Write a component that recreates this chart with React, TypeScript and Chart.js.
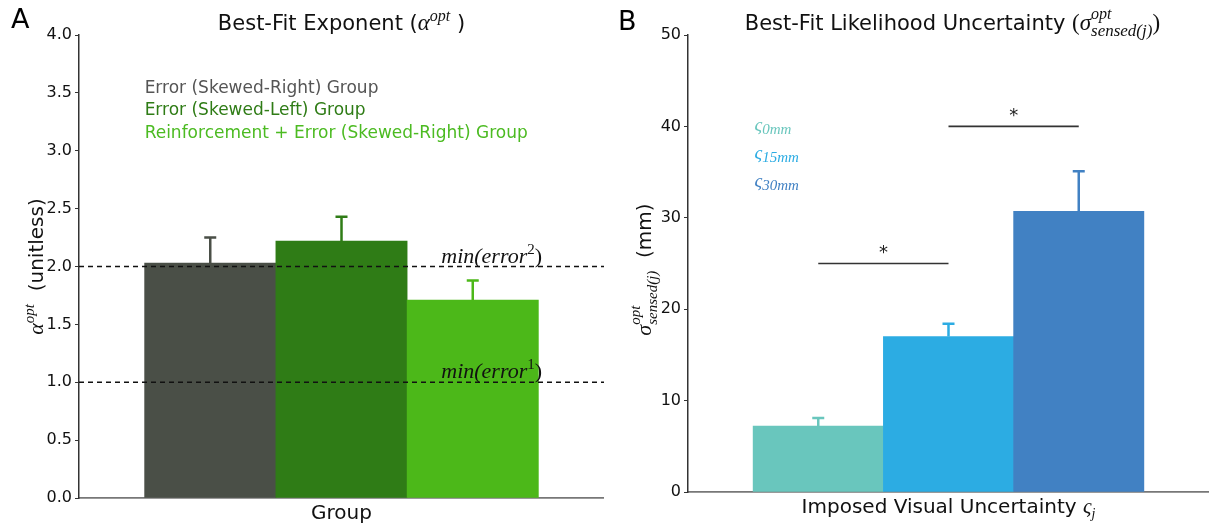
import React, { useEffect, useRef } from "react";
import { Chart, registerables } from "chart.js";

Chart.register(...registerables);

// ---------- Panel A data ----------
const groupLabels = [
  "Error (Skewed-Right) Group",
  "Error (Skewed-Left) Group",
  "Reinforcement + Error (Skewed-Right) Group",
];
const alphaValues = [2.03, 2.22, 1.71];
const alphaErrors = [0.22, 0.21, 0.17];
const groupColors = ["#4a4f47", "#2f7c16", "#4cb819"];
const groupTextColors = ["#555555", "#2f7c16", "#4cbb22"];
const refLevels = [2, 1];
const refExponents = ["2", "1"];
const legendLevelsA = [3.54, 3.35, 3.15];

// ---------- Panel B data ----------
const uncLabels = ["0mm", "15mm", "30mm"];
const sigmaValues = [7.2, 17.0, 30.7];
const sigmaErrors = [0.9, 1.4, 4.4];
const uncColors = ["#69c6bd", "#2cace3", "#4181c3"];
const sigPairs = [
  [0, 1],
  [1, 2],
];
const sigLevels = [25, 40];
const legendLevelsB = [39.9, 36.9, 33.8];

const SANS = '"DejaVu Sans", "Noto Sans", sans-serif';
const SERIF = '"Liberation Serif", "DejaVu Serif", serif';
const fnt = (size: number, fam: string, style = "") => `${style} ${size}px ${fam}`.trim();

type Seg = { t: string; font: string; dy?: number; color?: string; sameX?: boolean };

function measureSegs(ctx: CanvasRenderingContext2D, segs: Seg[]) {
  let w = 0,
    lastStart = 0,
    lastW = 0;
  for (const s of segs) {
    ctx.font = s.font;
    const sw = ctx.measureText(s.t).width;
    if (s.sameX) {
      const m = Math.max(lastW, sw);
      w = lastStart + m;
      lastW = m;
    } else {
      lastStart = w;
      lastW = sw;
      w += sw;
    }
  }
  return w;
}

function drawSegs(
  ctx: CanvasRenderingContext2D,
  segs: Seg[],
  x: number,
  y: number,
  align: "left" | "center",
  color: string
) {
  const total = measureSegs(ctx, segs);
  const cx = align === "center" ? x - total / 2 : x;
  let w = 0,
    lastStart = 0,
    lastW = 0;
  ctx.textBaseline = "alphabetic";
  ctx.textAlign = "left";
  for (const s of segs) {
    ctx.font = s.font;
    ctx.fillStyle = s.color || color;
    const sw = ctx.measureText(s.t).width;
    if (s.sameX) {
      ctx.fillText(s.t, cx + lastStart, y + (s.dy || 0));
      const m = Math.max(lastW, sw);
      w = lastStart + m;
      lastW = m;
    } else {
      lastStart = w;
      ctx.fillText(s.t, cx + w, y + (s.dy || 0));
      lastW = sw;
      w += sw;
    }
  }
}

function drawErrorBars(chart: any, values: number[], errors: number[], colors: string[]) {
  const ctx = chart.ctx as CanvasRenderingContext2D;
  const xs = chart.scales.x;
  const ys = chart.scales.y;
  ctx.save();
  ctx.lineWidth = 2.5;
  values.forEach((v, i) => {
    const x = xs.getPixelForValue(i);
    const y0 = ys.getPixelForValue(v);
    const y1 = ys.getPixelForValue(v + errors[i]);
    ctx.strokeStyle = colors[i];
    ctx.beginPath();
    ctx.moveTo(x, y0);
    ctx.lineTo(x, y1);
    ctx.moveTo(x - 6, y1);
    ctx.lineTo(x + 6, y1);
    ctx.stroke();
  });
  ctx.restore();
}

const overlayA = {
  id: "overlayA",
  afterDatasetsDraw(chart: any) {
    drawErrorBars(chart, alphaValues, alphaErrors, groupColors);
    const ctx = chart.ctx as CanvasRenderingContext2D;
    const xs = chart.scales.x;
    const ys = chart.scales.y;
    ctx.save();
    refLevels.forEach((lv, i) => {
      const x = xs.getPixelForValue(1.76);
      const y = ys.getPixelForValue(lv) - 4;
      drawSegs(
        ctx,
        [
          { t: "min(error", font: fnt(22, SERIF, "italic") },
          { t: refExponents[i], font: fnt(15, SERIF), dy: -9 },
          { t: ")", font: fnt(22, SERIF) },
        ],
        x,
        y,
        "left",
        "#111"
      );
    });
    ctx.restore();
  },
  afterDraw(chart: any) {
    const ctx = chart.ctx as CanvasRenderingContext2D;
    const xs = chart.scales.x;
    const ys = chart.scales.y;
    const ca = chart.chartArea;
    ctx.save();
    ctx.font = fnt(27, SANS);
    ctx.fillStyle = "#000";
    ctx.textAlign = "left";
    ctx.textBaseline = "alphabetic";
    ctx.fillText("A", 11, 28);
    drawSegs(
      ctx,
      [
        { t: "Best-Fit Exponent (", font: fnt(21, SANS) },
        { t: "α", font: fnt(23, SERIF, "italic") },
        { t: "opt", font: fnt(16, SERIF, "italic"), dy: -9 },
        { t: " )", font: fnt(21, SANS) },
      ],
      xs.getPixelForValue(1),
      30,
      "center",
      "#111"
    );
    groupLabels.forEach((lab, i) => {
      ctx.font = fnt(17, SANS);
      ctx.fillStyle = groupTextColors[i];
      ctx.textAlign = "left";
      ctx.textBaseline = "middle";
      ctx.fillText(lab, xs.getPixelForValue(-0.5), ys.getPixelForValue(legendLevelsA[i]));
    });
    ctx.font = fnt(20, SANS);
    ctx.fillStyle = "#111";
    ctx.textAlign = "center";
    ctx.textBaseline = "alphabetic";
    ctx.fillText("Group", xs.getPixelForValue(1), 519);
    ctx.translate(43, (ca.top + ca.bottom) / 2);
    ctx.rotate(-Math.PI / 2);
    drawSegs(
      ctx,
      [
        { t: "α", font: fnt(22, SERIF, "italic") },
        { t: "opt", font: fnt(15, SERIF, "italic"), dy: -9 },
        { t: "  (unitless)", font: fnt(20, SANS) },
      ],
      0,
      0,
      "center",
      "#111"
    );
    ctx.restore();
  },
};

const overlayB = {
  id: "overlayB",
  afterDatasetsDraw(chart: any) {
    drawErrorBars(chart, sigmaValues, sigmaErrors, uncColors);
    const ctx = chart.ctx as CanvasRenderingContext2D;
    const xs = chart.scales.x;
    const ys = chart.scales.y;
    ctx.save();
    sigPairs.forEach((p, i) => {
      const x = (xs.getPixelForValue(p[0]) + xs.getPixelForValue(p[1])) / 2;
      const y = ys.getPixelForValue(sigLevels[i]) - 13;
      ctx.font = fnt(18, SANS);
      ctx.fillStyle = "#222";
      ctx.textAlign = "center";
      ctx.textBaseline = "middle";
      ctx.fillText("*", x, y + 3);
    });
    ctx.restore();
  },
  afterDraw(chart: any) {
    const ctx = chart.ctx as CanvasRenderingContext2D;
    const xs = chart.scales.x;
    const ys = chart.scales.y;
    const ca = chart.chartArea;
    ctx.save();
    ctx.font = fnt(27, SANS);
    ctx.fillStyle = "#000";
    ctx.textAlign = "left";
    ctx.textBaseline = "alphabetic";
    ctx.fillText("B", 14, 30);
    drawSegs(
      ctx,
      [
        { t: "Best-Fit Likelihood Uncertainty ", font: fnt(21, SANS) },
        { t: "(", font: fnt(23, SERIF) },
        { t: "σ", font: fnt(23, SERIF, "italic") },
        { t: "opt", font: fnt(16, SERIF, "italic"), dy: -11 },
        { t: "sensed(j)", font: fnt(17, SERIF, "italic"), dy: 6, sameX: true },
        { t: ")", font: fnt(23, SERIF) },
      ],
      xs.getPixelForValue(1.03),
      30,
      "center",
      "#111"
    );
    uncLabels.forEach((lab, i) => {
      const x = xs.getPixelForValue(-0.49);
      const y = ys.getPixelForValue(legendLevelsB[i]) + 4;
      drawSegs(
        ctx,
        [
          { t: "ς", font: fnt(19, SERIF, "italic") },
          { t: lab, font: fnt(15, SERIF, "italic"), dy: 3 },
        ],
        x,
        y,
        "left",
        uncColors[i]
      );
    });
    drawSegs(
      ctx,
      [
        { t: "Imposed Visual Uncertainty ", font: fnt(20, SANS) },
        { t: "ς", font: fnt(21, SERIF, "italic") },
        { t: "j", font: fnt(14, SERIF, "italic"), dy: 5 },
      ],
      xs.getPixelForValue(1),
      513,
      "center",
      "#111"
    );
    ctx.translate(47, (ca.top + ca.bottom) / 2 + 6);
    ctx.rotate(-Math.PI / 2);
    drawSegs(
      ctx,
      [
        { t: "σ", font: fnt(22, SERIF, "italic") },
        { t: "opt", font: fnt(15, SERIF, "italic"), dy: -11 },
        { t: "sensed(j)", font: fnt(15, SERIF, "italic"), dy: 6, sameX: true },
        { t: "  (mm)", font: fnt(20, SANS) },
      ],
      0,
      0,
      "center",
      "#111"
    );
    ctx.restore();
  },
};

function yScale(min: number, max: number, step: number, decimals: number, width: number) {
  return {
    min,
    max,
    ticks: {
      stepSize: step,
      callback: (v: any) => Number(v).toFixed(decimals),
      font: { family: SANS, size: 16 },
      color: "#111",
      padding: 3,
    },
    grid: { drawOnChartArea: false, tickLength: 4, color: "#333", lineWidth: 1 },
    border: { color: "#333", width: 1.5 },
    afterFit: (s: any) => {
      s.width = width;
    },
  };
}

function xScale(min: number, max: number, height: number) {
  return {
    type: "linear" as const,
    min,
    max,
    offset: false,
    ticks: { display: false, stepSize: 1 },
    grid: { display: false },
    border: { display: true, color: "#777", width: 1.8 },
    afterFit: (s: any) => {
      s.height = height;
    },
  };
}

export default function App() {
  const refA = useRef<HTMLCanvasElement | null>(null);
  const refB = useRef<HTMLCanvasElement | null>(null);

  useEffect(() => {
    document.body.style.margin = "0";
    const chartA = new Chart(refA.current as HTMLCanvasElement, {
      type: "bar",
      data: {
        datasets: [
          ...refLevels.map((lv) => ({
            type: "line" as const,
            data: [
              { x: -1, y: lv },
              { x: 3, y: lv },
            ],
            borderColor: "#111",
            borderWidth: 1.3,
            borderDash: [5, 4],
            pointRadius: 0,
            order: 0,
          })),
          {
            type: "bar" as const,
            data: alphaValues.map((v, i) => ({ x: i, y: v })),
            backgroundColor: groupColors,
            barPercentage: 1,
            categoryPercentage: 1,
            borderWidth: 0,
            order: 1,
          },
        ] as any,
      },
      options: {
        animation: false,
        responsive: false,
        maintainAspectRatio: false,
        layout: { padding: { top: 35, left: 0, right: 0, bottom: 0 } },
        plugins: { legend: { display: false }, tooltip: { enabled: false } },
        scales: {
          x: xScale(-1, 3, 29),
          y: yScale(0, 4, 0.5, 1, 79),
        } as any,
      },
      plugins: [overlayA],
    });

    const chartB = new Chart(refB.current as HTMLCanvasElement, {
      type: "bar",
      data: {
        datasets: [
          ...sigPairs.map((p, i) => ({
            type: "line" as const,
            data: [
              { x: p[0], y: sigLevels[i] },
              { x: p[1], y: sigLevels[i] },
            ],
            borderColor: "#333",
            borderWidth: 1.6,
            pointRadius: 0,
            order: 0,
          })),
          {
            type: "bar" as const,
            data: sigmaValues.map((v, i) => ({ x: i, y: v })),
            backgroundColor: uncColors,
            barPercentage: 1,
            categoryPercentage: 1,
            borderWidth: 0,
            order: 1,
          },
        ] as any,
      },
      options: {
        animation: false,
        responsive: false,
        maintainAspectRatio: false,
        layout: { padding: { top: 35, left: 0, right: 0, bottom: 0 } },
        plugins: { legend: { display: false }, tooltip: { enabled: false } },
        scales: {
          x: xScale(-1, 3.0, 35),
          y: yScale(0, 50, 10, 0, 84),
        } as any,
      },
      plugins: [overlayB],
    });

    return () => {
      chartA.destroy();
      chartB.destroy();
    };
  }, []);

  return (
    <div style={{ position: "relative", width: 1209, height: 527, background: "#fff" }}>
      <canvas
        ref={refA}
        width={604}
        height={527}
        style={{ position: "absolute", left: 0, top: 0, width: 604, height: 527 }}
      />
      <canvas
        ref={refB}
        width={605}
        height={527}
        style={{ position: "absolute", left: 604, top: 0, width: 605, height: 527 }}
      />
    </div>
  );
}
